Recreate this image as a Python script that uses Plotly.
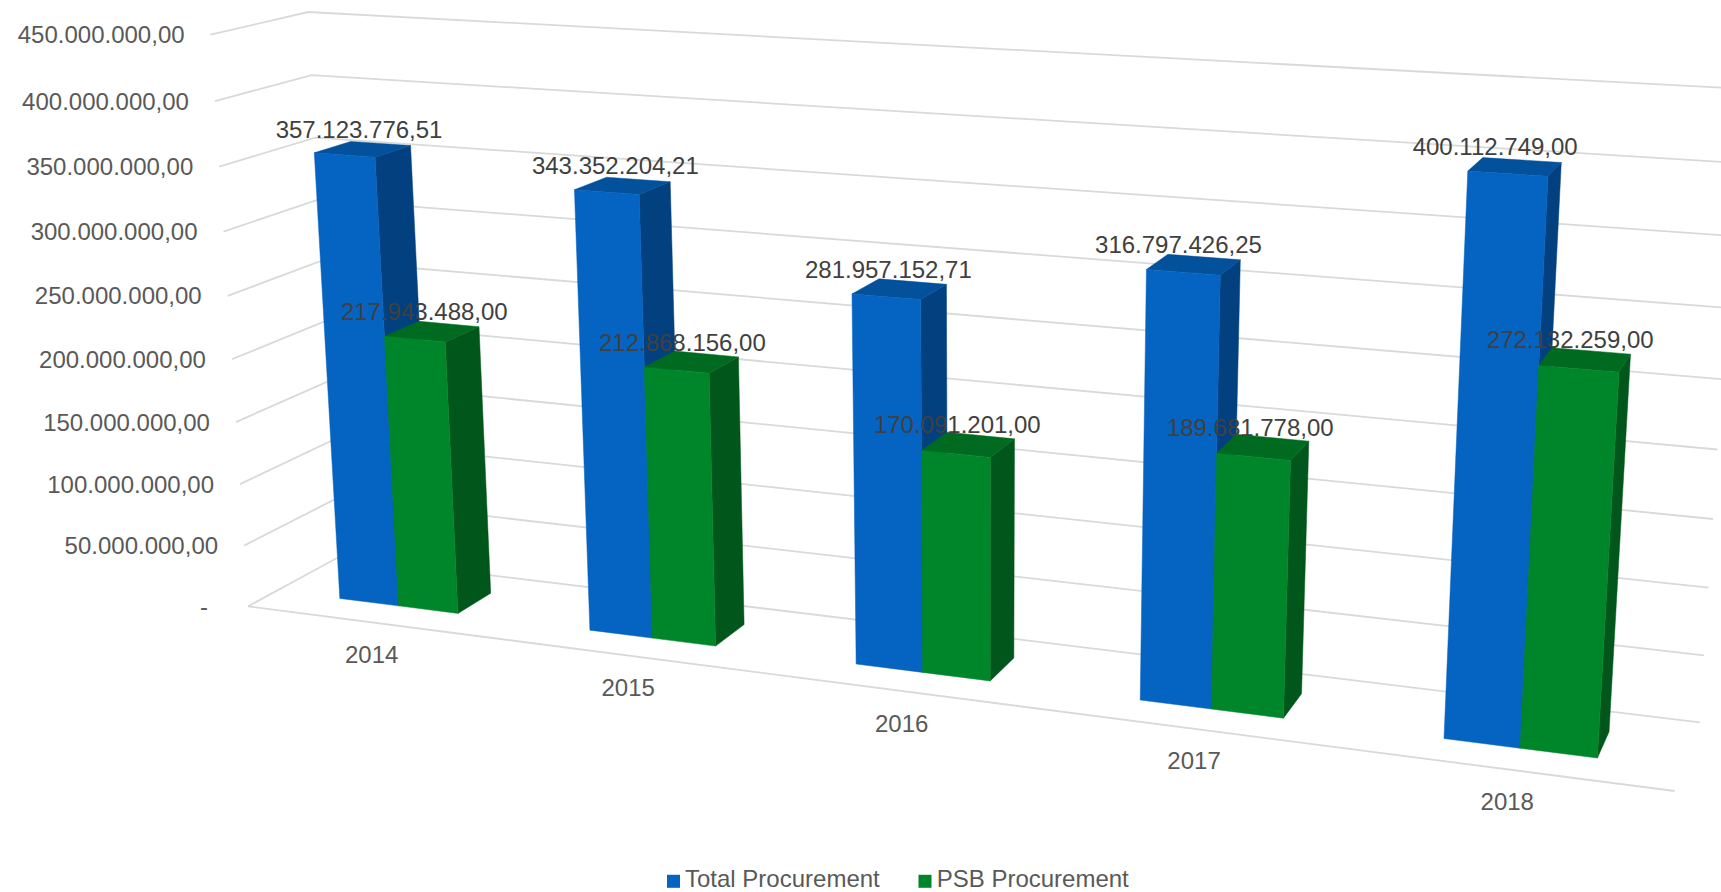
import numpy as np
import plotly.graph_objects as go

# ---------- data ----------
years = ["2014", "2015", "2016", "2017", "2018"]
total_procurement = [357123776.51, 343352204.21, 281957152.71, 316797426.25, 400112749.00]
psb_procurement = [217943488.00, 212868156.00, 170091201.00, 189681778.00, 272132259.00]
value_ticks = [0, 50e6, 100e6, 150e6, 200e6, 250e6, 300e6, 350e6, 400e6, 450e6]

# ---------- 3D layout of the chart box (category units, depth 0-1, value) ----------
BAR_HALF = 0.24
D0, D1 = 0.31, 0.70
ZMAX = 450e6
NCAT = len(years)
TEXT_DROP = 2.5  # middle-anchored SVG text sits slightly high


def c(i):
    return i + 0.5


# perspective camera calibration: box/bar reference points -> picture pixels
T0, T4 = total_procurement[0], total_procurement[4]
P0, P4 = psb_procurement[0], psb_procurement[4]
H = BAR_HALF
calibration = [
    ((0, 0, 0), (248.3, 606)), ((0, 0, 450e6), (210.7, 34.3)), ((0, 1, 450e6), (307.7, 11.7)),
    ((0, 1, 0), (339, 555)), ((5, 0, 0), (1675, 790)), ((5, 1, 0), (1700, 723)),
    ((5, 1, 450e6), (1741, 88)), ((0, 0, 400e6), (215, 100.7)), ((0, 1, 400e6), (311.7, 75)),
    ((0, 0, 350e6), (219.3, 166.3)), ((0, 1, 350e6), (316.7, 137)),
    ((c(0) - H, D0, 0), (340, 599)), ((c(0), D0, 0), (398.7, 606)), ((c(0) + H, D0, 0), (457.3, 613.7)),
    ((c(0) + H, D1, 0), (490.7, 593.3)),
    ((c(0) - H, D0, T0), (314.3, 153.3)), ((c(0), D0, T0), (375, 157.3)),
    ((c(0) - H, D1, T0), (350.7, 141.7)), ((c(0), D1, T0), (410.7, 146)),
    ((c(0), D0, P0), (384, 336.7)), ((c(0) + H, D0, P0), (445, 342.3)),
    ((c(0) + H, D1, P0), (479, 327.3)), ((c(0), D1, P0), (418.3, 322.3)),
    ((c(4) - H, D0, 0), (1445, 738.3)), ((c(4), D0, 0), (1520.7, 748)), ((c(4) + H, D0, 0), (1597, 757.7)),
    ((c(4) + H, D1, 0), (1608.7, 732.3)),
    ((c(4) - H, D0, T4), (1468.3, 171)), ((c(4), D0, T4), (1547.7, 175.7)),
    ((c(4) - H, D1, T4), (1484, 157.7)), ((c(4), D1, T4), (1561.3, 162.3)),
    ((c(4), D0, P4), (1539, 366)), ((c(4) + H, D0, P4), (1617.7, 372.3)),
    ((c(4) + H, D1, P4), (1630, 354.3)), ((c(4), D1, P4), (1551, 348.7)),
]


def norm(p):
    return p[0] / 5.0, p[1], p[2] / ZMAX


rows, rhs = [], []
for p3, (u, v) in calibration:
    X, Y, Z = norm(p3)
    u, v = u / 1000.0, v / 1000.0
    rows.append([X, Y, Z, 1, 0, 0, 0, 0, -u * X, -u * Y, -u * Z])
    rhs.append(u)
    rows.append([0, 0, 0, 0, X, Y, Z, 1, -v * X, -v * Y, -v * Z])
    rhs.append(v)
sol = np.linalg.lstsq(np.array(rows), np.array(rhs), rcond=None)[0]
CAM = np.append(sol, 1.0).reshape(3, 4)


def project(x, y, z):
    X, Y, Z = norm((x, y, z))
    h = CAM @ np.array([X, Y, Z, 1.0])
    return 1000.0 * h[0] / h[2], 1000.0 * h[1] / h[2]


def polys(faces):
    xs, ys = [], []
    for face in faces:
        pts = [project(*p) for p in face]
        pts.append(pts[0])
        xs += [p[0] for p in pts] + [None]
        ys += [p[1] for p in pts] + [None]
    return xs, ys


def bar_faces(x0, x1, val):
    front = [(x0, D0, 0), (x1, D0, 0), (x1, D0, val), (x0, D0, val)]
    side = [(x1, D0, 0), (x1, D1, 0), (x1, D1, val), (x1, D0, val)]
    top = [(x0, D0, val), (x1, D0, val), (x1, D1, val), (x0, D1, val)]
    return front, side, top


fig = go.Figure()

# gridlines + category axis
gx, gy = [], []
for v in value_ticks:
    for p in [project(0, 0, v), project(0, 1, v), project(NCAT, 1, v)]:
        gx.append(p[0])
        gy.append(p[1])
    gx.append(None)
    gy.append(None)
for p in [project(0, 0, 0), project(NCAT, 0, 0)]:
    gx.append(p[0])
    gy.append(p[1])
fig.add_trace(go.Scatter(x=gx, y=gy, mode="lines", line=dict(color="#D9D9D9", width=1.8),
                         hoverinfo="skip", showlegend=False))

# bars
series = [
    ("Total Procurement", total_procurement, -H, 0.0, ("#0563C1", "#03407F", "#03509B")),
    ("PSB Procurement", psb_procurement, 0.0, H, ("#00862A", "#00561B", "#006A21")),
]
for name, vals, a, b, cols in series:
    fronts, sides, tops = [], [], []
    for i, v in enumerate(vals):
        f, s, t = bar_faces(c(i) + a, c(i) + b, v)
        fronts.append(f)
        sides.append(s)
        tops.append(t)
    for faces, col in zip((sides, tops, fronts), (cols[1], cols[2], cols[0])):
        xs, ys = polys(faces)
        fig.add_trace(go.Scatter(x=xs, y=ys, mode="lines", fill="toself", fillcolor=col,
                                 line=dict(color=col, width=0.5), name=name,
                                 hoverinfo="skip", showlegend=False))


def euro(v):
    return f"{v:,.2f}".replace(",", "#").replace(".", ",").replace("#", ".")


# data labels
for name, vals, a, b, cols in series:
    lx, ly, tx = [], [], []
    for i, v in enumerate(vals):
        px, py = project(c(i) + (a + b) / 2, (D0 + D1) / 2, v)
        if a < 0:
            dx = -3.7 - 0.0139 * (px - 363)
        else:
            dx = -7.7 - 0.0061 * (px - 431)
        lx.append(px + dx)
        ly.append(py - 20 + TEXT_DROP)
        tx.append(euro(v))
    fig.add_trace(go.Scatter(x=lx, y=ly, mode="text", text=tx, textposition="middle center",
                             textfont=dict(family="Liberation Sans", size=24, color="#404040"),
                             hoverinfo="skip", showlegend=False))

# value axis labels
tx, tlx, tly = [], [], []
for v in value_ticks:
    px, py = project(0, 0, v)
    tx.append(euro(v) if v else "-")
    tlx.append(px - (26 if v else 40))
    tly.append(py + TEXT_DROP)
fig.add_trace(go.Scatter(x=tlx, y=tly, mode="text", text=tx, textposition="middle left",
                         textfont=dict(family="Liberation Sans", size=24, color="#595959"),
                         hoverinfo="skip", showlegend=False))

# category labels
cx, cy = [], []
for i in range(NCAT):
    px, py = project(c(i), 0, 0)
    cx.append(px + 1 - 0.7 * i)
    cy.append(py + 32 + TEXT_DROP)
fig.add_trace(go.Scatter(x=cx, y=cy, mode="text", text=years, textposition="middle center",
                         textfont=dict(family="Liberation Sans", size=24, color="#595959"),
                         hoverinfo="skip", showlegend=False))

# legend row
legend_y = 881.3
legend_text_y = 881.0
legend_squares_x = [673.5, 925.0]
legend_text_x = [685.0, 936.7]
for (name, vals, a, b, cols), sx, tx0 in zip(series, legend_squares_x, legend_text_x):
    fig.add_trace(go.Scatter(x=[sx], y=[legend_y], mode="markers", name=name,
                             marker=dict(symbol="square", size=13, color=cols[0]),
                             hoverinfo="skip", showlegend=False))
    fig.add_trace(go.Scatter(x=[tx0], y=[legend_text_y], mode="text", text=[name],
                             textposition="middle right",
                             textfont=dict(family="Liberation Sans", size=24, color="#595959"),
                             hoverinfo="skip", showlegend=False))

fig.update_layout(
    width=1721, height=892, margin=dict(l=0, r=0, t=0, b=0, autoexpand=False),
    paper_bgcolor="white", plot_bgcolor="white",
    xaxis=dict(range=[0, 1721], visible=False, fixedrange=True),
    yaxis=dict(range=[892, 0], visible=False, fixedrange=True),
    showlegend=False,
)
fig.write_html("out.html", config=dict(displayModeBar=False),
               post_script="document.body.style.margin='0';document.documentElement.style.overflow='hidden';")
